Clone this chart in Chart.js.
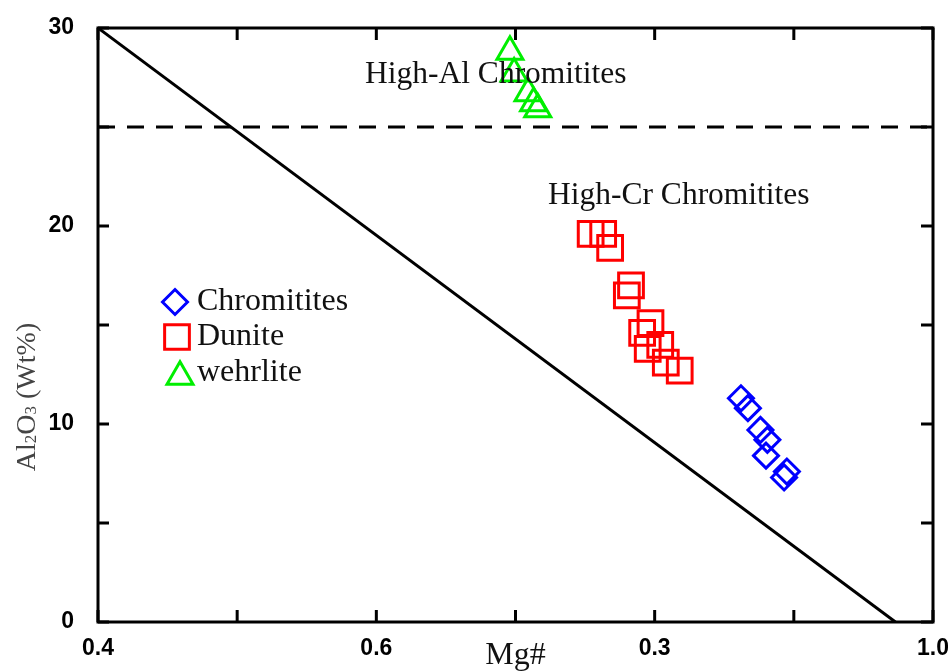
<!DOCTYPE html>
<html>
<head>
<meta charset="utf-8">
<script src="https://cdn.jsdelivr.net/npm/chart.js"></script>
<style>
  html, body { margin: 0; padding: 0; background: #fff; }
</style>
</head>
<body>
<canvas id="myChart" width="948" height="672"></canvas>
<script>
// data
const chromititesMg = [0.862, 0.867, 0.876, 0.881, 0.880, 0.895, 0.893];
const chromititesAl = [11.3, 10.8, 9.7, 9.2, 8.4, 7.6, 7.3];

const duniteMg = [0.754, 0.763, 0.768, 0.783, 0.780, 0.797, 0.791, 0.795, 0.804, 0.808, 0.818];
const duniteAl = [19.6, 19.6, 18.9, 17.0, 16.5, 15.1, 14.6, 13.8, 14.0, 13.1, 12.7];

const wehrliteMg = [0.696, 0.699, 0.709, 0.713, 0.716];
const wehrliteAl = [28.8, 27.7, 26.7, 26.2, 25.9];

// boundary lines
const boundaryMg = [0.4, 0.973];
const boundaryAl = [30, 0];
const dividerMg = [0.4, 1.0];
const dividerAl = [25, 25];

// tick labels (the original figure prints 0.3 where 0.8 belongs)
const xTickLabels = ['0.4', '', '0.6', '', '0.3', '', '1.0'];
const yTickLabels = ['0', '', '10', '', '20', '', '30'];

const seriesNames = ['Chromitites', 'Dunite', 'wehrlite'];
const seriesColors = ['#0000ff', '#ff0000', '#00ee00'];
const seriesShapes = ['rectRot', 'rect', 'triangle'];
const seriesRadius = [12.5, 17.5, 15];

function toPoints(xs, ys) {
    return xs.map((x, i) => ({ x: x, y: ys[i] }));
}

const serif = '"Liberation Serif", "Times New Roman", serif';
const tickFont = 'bold 23px "Liberation Sans", Arial, sans-serif';

// draws a marker shape by hand (used for the legend)
function marker(ctx, shape, x, y, r) {
    ctx.beginPath();
    if (shape == 'rect') {
        const s = Math.SQRT1_2 * r;
        ctx.rect(x - s, y - s, 2 * s, 2 * s);
    } else if (shape == 'rectRot') {
        ctx.moveTo(x, y - r);
        ctx.lineTo(x + r, y);
        ctx.lineTo(x, y + r);
        ctx.lineTo(x - r, y);
        ctx.closePath();
    } else {
        ctx.moveTo(x, y - r);
        ctx.lineTo(x + Math.sin(Math.PI / 3) * r, y + r / 2);
        ctx.lineTo(x - Math.sin(Math.PI / 3) * r, y + r / 2);
        ctx.closePath();
    }
    ctx.stroke();
}

const framePlugin = {
    id: 'framePlugin',
    afterDraw(chart) {
        const ctx = chart.ctx;
        const a = chart.chartArea;
        const xs = chart.scales.x;
        const ys = chart.scales.y;
        ctx.save();

        // frame
        ctx.strokeStyle = '#000';
        ctx.lineWidth = 3;
        ctx.strokeRect(a.left, a.top, a.right - a.left, a.bottom - a.top);

        // inward ticks on all sides
        ctx.beginPath();
        xs.ticks.forEach(t => {
            const px = xs.getPixelForValue(t.value);
            ctx.moveTo(px, a.bottom); ctx.lineTo(px, a.bottom - 12);
            ctx.moveTo(px, a.top); ctx.lineTo(px, a.top + 12);
        });
        ys.ticks.forEach(t => {
            const py = ys.getPixelForValue(t.value);
            ctx.moveTo(a.left, py); ctx.lineTo(a.left + 11, py);
            ctx.moveTo(a.right, py); ctx.lineTo(a.right - 12, py);
        });
        ctx.stroke();

        // x tick labels, placed by the x scale
        ctx.fillStyle = '#000';
        ctx.font = tickFont;
        ctx.textAlign = 'center';
        ctx.textBaseline = 'middle';
        xs.ticks.forEach((t, i) => {
            if (xTickLabels[i]) ctx.fillText(xTickLabels[i], xs.getPixelForValue(t.value), a.bottom + 27);
        });

        // field labels
        ctx.fillStyle = '#111';
        ctx.font = '31.5px ' + serif;
        ctx.textAlign = 'left';
        ctx.fillText('High-Al Chromitites', 365, 75);
        ctx.fillText('High-Cr Chromitites', 548, 196);

        // legend
        ctx.font = '32px ' + serif;
        const legendY = [302, 337, 373];
        const legendX = [175, 177, 180];
        seriesNames.forEach((name, i) => {
            ctx.strokeStyle = seriesColors[i];
            ctx.lineWidth = 3;
            const r = seriesRadius[i];
            const cy = seriesShapes[i] == 'triangle' ? legendY[i] + r / 4 : legendY[i];
            marker(ctx, seriesShapes[i], legendX[i], cy, r);
            ctx.fillStyle = '#111';
            ctx.fillText(name, 197, legendY[i]);
        });

        // y axis title with subscripts
        ctx.translate(25, 397);
        ctx.rotate(-Math.PI / 2);
        ctx.fillStyle = '#444';
        ctx.textBaseline = 'alphabetic';
        const parts = [['Al', 28, 0], ['2', 17, 1], ['O', 28, 0], ['3', 17, 1], [' (Wt%)', 28, 0]];
        let w = 0;
        parts.forEach(p => { ctx.font = p[1] + 'px ' + serif; w += ctx.measureText(p[0]).width; });
        let cx = -w / 2;
        parts.forEach(p => {
            ctx.font = p[1] + 'px ' + serif;
            ctx.fillText(p[0], cx, 10 + p[2]);
            cx += ctx.measureText(p[0]).width;
        });
        ctx.restore();
    }
};

const pointSets = [
    toPoints(chromititesMg, chromititesAl),
    toPoints(duniteMg, duniteAl),
    toPoints(wehrliteMg, wehrliteAl)
];

const datasets = pointSets.map((pts, i) => ({
    label: seriesNames[i],
    data: pts,
    pointStyle: seriesShapes[i],
    pointRadius: seriesRadius[i],
    pointHoverRadius: seriesRadius[i],
    pointBorderWidth: 3,
    borderColor: seriesColors[i],
    backgroundColor: 'rgba(0,0,0,0)',
    showLine: false
}));

datasets.push({
    label: 'boundary',
    data: toPoints(boundaryMg, boundaryAl),
    showLine: true,
    borderColor: '#000',
    borderWidth: 3,
    pointRadius: 0
});
datasets.push({
    label: 'divider',
    data: toPoints(dividerMg, dividerAl),
    showLine: true,
    borderColor: '#000',
    borderWidth: 3,
    borderDash: [17, 12],
    pointRadius: 0
});

new Chart('myChart', {
    type: 'scatter',
    data: { datasets: datasets },
    options: {
        responsive: false,
        animation: false,
        layout: { autoPadding: false, padding: { left: 0, top: 28, right: 15, bottom: 0 } },
        plugins: { legend: { display: false }, tooltip: { enabled: false } },
        scales: {
            x: {
                type: 'linear',
                min: 0.4,
                max: 1.0,
                grid: { display: false },
                border: { display: false },
                ticks: { stepSize: 0.1, display: false },
                title: {
                    display: true,
                    text: 'Mg#',
                    color: '#111',
                    padding: 0,
                    font: { family: serif, size: 32, lineHeight: 1 }
                },
                afterFit: s => { s.height = 50; }
            },
            y: {
                type: 'linear',
                min: 0,
                max: 30,
                grid: { display: false },
                border: { display: false },
                ticks: {
                    stepSize: 5,
                    autoSkip: false,
                    padding: 16,
                    color: '#000',
                    font: { family: '"Liberation Sans", Arial, sans-serif', size: 23, weight: 'bold' },
                    callback: (v, i) => yTickLabels[i]
                },
                afterFit: s => { s.width = 98; s.paddingTop = 0; s.paddingBottom = 0; }
            }
        }
    },
    plugins: [framePlugin]
});
</script>
</body>
</html>
